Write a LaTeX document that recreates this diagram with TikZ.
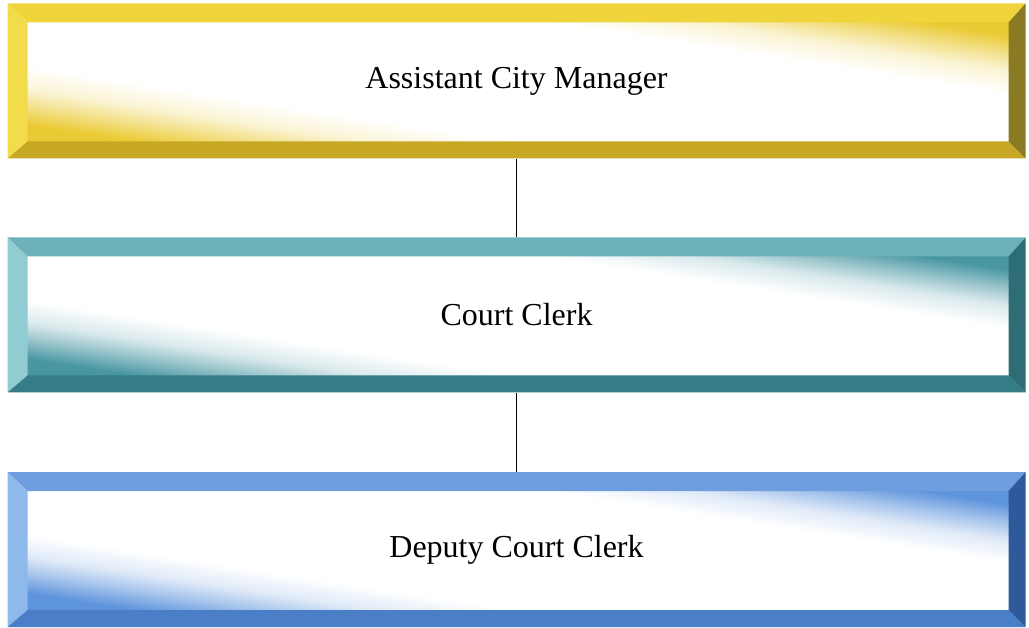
\documentclass[tikz,border=0pt]{standalone}
\usepackage{fontspec}
\setmainfont{Liberation Serif}
\usetikzlibrary{calc}
\definecolor{yFace}{HTML}{EACA34}
\definecolor{yTop}{HTML}{F0D43C}
\definecolor{yLeft}{HTML}{F3DC4C}
\definecolor{yBot}{HTML}{C6A824}
\definecolor{yRight}{HTML}{8A7A24}
\definecolor{tFace}{HTML}{4896A2}
\definecolor{tTop}{HTML}{6DB2BA}
\definecolor{tLeft}{HTML}{90CCD2}
\definecolor{tBot}{HTML}{347C86}
\definecolor{tRight}{HTML}{2E6D76}
\definecolor{bFace}{HTML}{5E94DC}
\definecolor{bTop}{HTML}{6E9EE0}
\definecolor{bLeft}{HTML}{8FB8EB}
\definecolor{bBot}{HTML}{4A7EC6}
\definecolor{bRight}{HTML}{2E5A9C}
\colorlet{yMid}{yFace!55!white}\colorlet{yPale}{yFace!20!white}
\colorlet{tMid}{tFace!55!white}\colorlet{tPale}{tFace!20!white}
\colorlet{bMid}{bFace!55!white}\colorlet{bPale}{bFace!20!white}
\pgfdeclareverticalshading{faceY}{100bp}{color(0bp)=(yFace); color(7bp)=(yFace); color(14bp)=(yMid); color(20bp)=(yPale); color(28bp)=(white); color(72bp)=(white); color(80bp)=(yPale); color(86bp)=(yMid); color(93bp)=(yFace); color(100bp)=(yFace)}
\pgfdeclareverticalshading{faceT}{100bp}{color(0bp)=(tFace); color(7bp)=(tFace); color(14bp)=(tMid); color(20bp)=(tPale); color(28bp)=(white); color(72bp)=(white); color(80bp)=(tPale); color(86bp)=(tMid); color(93bp)=(tFace); color(100bp)=(tFace)}
\pgfdeclareverticalshading{faceB}{100bp}{color(0bp)=(bFace); color(7bp)=(bFace); color(14bp)=(bMid); color(20bp)=(bPale); color(28bp)=(white); color(72bp)=(white); color(80bp)=(bPale); color(86bp)=(bMid); color(93bp)=(bFace); color(100bp)=(bFace)}
\tikzset{
  bevelbox/.style n args={5}{
    rectangle, inner sep=0pt, minimum width=1018pt, minimum height=155pt,
    font=\fontsize{32}{38}\selectfont, text=black,
    path picture={
      \coordinate (NW) at (path picture bounding box.north west);
      \coordinate (SE) at (path picture bounding box.south east);
      \coordinate (NE) at (path picture bounding box.north east);
      \coordinate (SW) at (path picture bounding box.south west);
      \coordinate (iNW) at ($(NW)+(20pt,-19pt)$);
      \coordinate (iNE) at ($(NE)+(-17pt,-19pt)$);
      \coordinate (iSE) at ($(SE)+(-17pt,17pt)$);
      \coordinate (iSW) at ($(SW)+(20pt,17pt)$);
      \begin{scope}
        \clip ($(iNW)+(-1pt,1pt)$) rectangle ($(iSE)+(1pt,-1pt)$);
        \pgftransformshift{\pgfpointanchor{path picture bounding box}{center}}
        \pgftransformcm{10.6}{-1.643}{0}{2.8}{\pgfpoint{1.5pt}{1pt}}
        \pgflowlevelsynccm
        \pgfuseshading{#1}
      \end{scope}
      \fill[#2] (NW) -- (NE) -- (iNE) -- (iNW) -- cycle;
      \fill[#3] (NW) -- (iNW) -- (iSW) -- (SW) -- cycle;
      \fill[#4] (SW) -- (iSW) -- (iSE) -- (SE) -- cycle;
      \fill[#5] (NE) -- (SE) -- (iSE) -- (iNE) -- cycle;
    }
  },
  link/.style={draw=black, line width=1.4pt}
}
\begin{document}
\begin{tikzpicture}[x=1pt,y=-1pt]
\useasboundingbox (0,0) rectangle (1029,628);
\node[bevelbox={faceY}{yTop}{yLeft}{yBot}{yRight}] (acm) at (516.5,81) {Assistant City Manager};
\node[bevelbox={faceT}{tTop}{tLeft}{tBot}{tRight}] (cc) at (516.5,315) {Court Clerk};
\node[bevelbox={faceB}{bTop}{bLeft}{bBot}{bRight}] (dcc) at (516.5,549.5) {Deputy Court Clerk};
\draw[link] (acm.south) -- (cc.north);
\draw[link] (cc.south) -- (dcc.north);
\end{tikzpicture}
\end{document}
